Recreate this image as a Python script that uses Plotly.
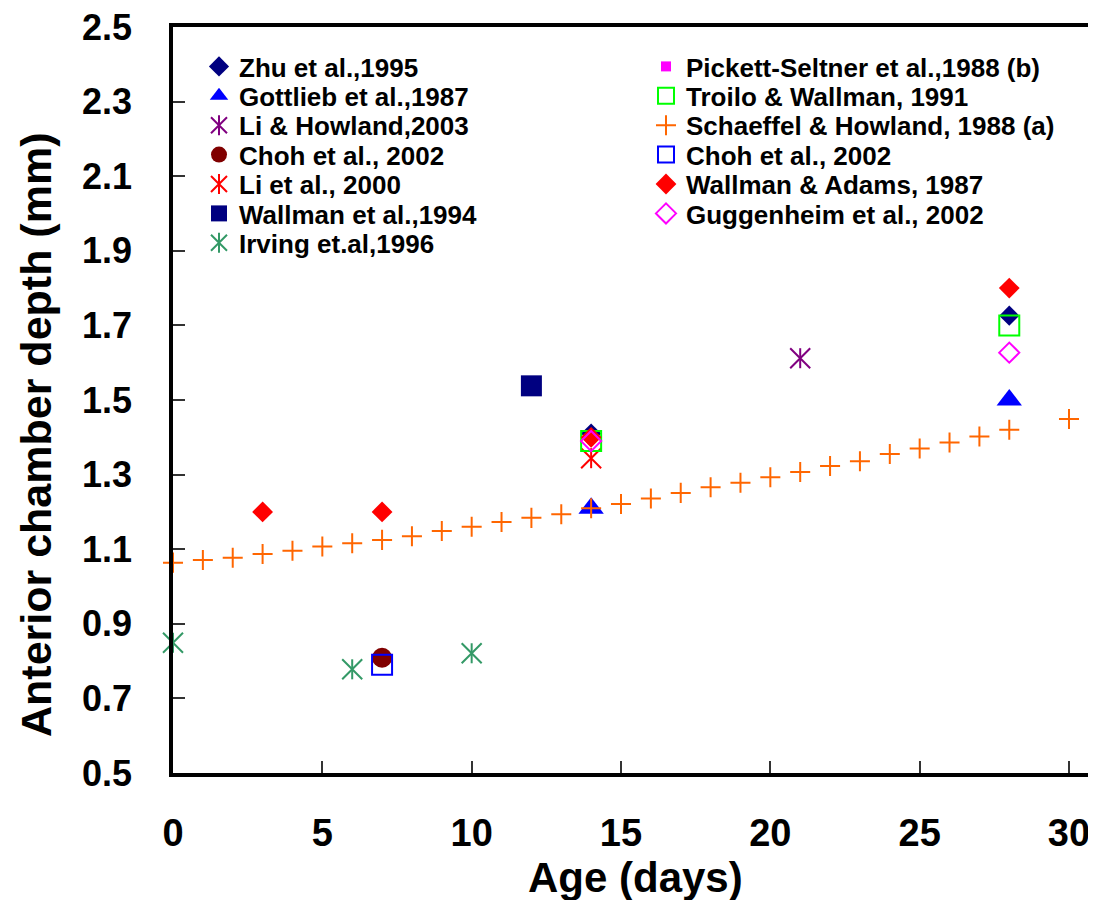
import plotly.graph_objects as go

# ---------------- data ----------------
zhu_x = [14, 28]
zhu_y = [1.41, 1.726]

gott_x = [14, 28]
gott_y = [1.21, 1.50]

lih_x = [21]
lih_y = [1.612]

choh_c_x = [7]
choh_c_y = [0.809]

li2000_x = [14]
li2000_y = [1.344]

wall94_x = [12]
wall94_y = [1.538]

irving_x = [0, 6, 10]
irving_y = [0.849, 0.778, 0.821]

pickett_x = [14]
pickett_y = [1.40]

troilo_x = [14, 28]
troilo_y = [1.39, 1.70]

schaeffel_x = [0, 1, 2, 3, 4, 5, 6, 7, 8, 9, 10, 11, 12, 13, 14, 15, 16, 17, 18, 19,
               20, 21, 22, 23, 24, 25, 26, 27, 28, 30]
schaeffel_y = [1.064, 1.071, 1.077, 1.087, 1.096, 1.107, 1.116, 1.125, 1.135, 1.149,
               1.160, 1.173, 1.184, 1.194, 1.210, 1.221, 1.236, 1.251, 1.266, 1.278,
               1.293, 1.307, 1.323, 1.336, 1.355, 1.370, 1.386, 1.402, 1.420, 1.449]

choh_s_x = [7]
choh_s_y = [0.790]

wa_x = [3, 7, 14, 28]
wa_y = [1.20, 1.20, 1.40, 1.80]

gugg_x = [14, 28]
gugg_y = [1.39, 1.627]

x_ticks = [0, 5, 10, 15, 20, 25, 30]
y_ticks = [0.5, 0.7, 0.9, 1.1, 1.3, 1.5, 1.7, 1.9, 2.1, 2.3, 2.5]

# ---------------- layout geometry ----------------
OFF = 8                      # page body margin
PAGE_W, PAGE_H = 1096, 900
W, H = PAGE_W - OFF, PAGE_H - OFF
# plot area in page pixels
PL, PT, PR, PB = 173, 27, 1096, 773
ML, MT = PL - OFF, PT - OFF
MR, MB = W - (PR - OFF), H - (PB - OFF)
PW, PH = PR - PL, PB - PT

FONT = "Liberation Sans, Arial, sans-serif"


def px_x(p):
    return (p - PL) / PW


def px_y(p):
    return (PB - p) / PH


fig = go.Figure()
legends = {}
leg_count = [0]


def new_legend(text_left_px, row_center_px):
    leg_count[0] += 1
    key = "legend" if leg_count[0] == 1 else f"legend{leg_count[0]}"
    legends[key] = dict(
        x=px_x(text_left_px - 40), y=px_y(row_center_px),
        xanchor="left", yanchor="middle",
        bgcolor="rgba(0,0,0,0)", borderwidth=0,
        font=dict(family=FONT, size=26, color="black", weight="bold"),
        itemclick=False, itemdoubleclick=False,
    )
    return key


def add(name, xs, ys, symbol, color, size, leg, open_=False, lw=2):
    fig.add_trace(go.Scatter(
        x=xs, y=ys, mode="markers", name=name, legend=leg,
        cliponaxis=False,
        marker=dict(symbol=symbol, color=color, size=size,
                    line=dict(color=color, width=lw if open_ else 0)),
    ))


def add_star(name, xs, ys, color, leg, leg_v):
    # Excel-style asterisk: an "x" plus a vertical stroke
    add(name, xs, ys, "x-thin-open", color, 20, leg, open_=True, lw=2)
    fig.add_trace(go.Scatter(
        x=xs, y=ys, mode="markers", name=" ", legend=leg_v,
        cliponaxis=False, hoverinfo="skip",
        marker=dict(symbol="line-ns-open", color=color, size=14.3,
                    line=dict(color=color, width=2)),
    ))


LEFT_TXT = 239
RIGHT_TXT = 686
rows = [66.5 + 29.4 * i for i in range(7)]

lk = {}
order_left = ["zhu", "gott", "lih", "chohc", "li2000", "wall94", "irving"]
order_right = ["pickett", "troilo", "schaeffel", "chohs", "wa", "gugg"]
for i, k in enumerate(order_left):
    lk[k] = new_legend(LEFT_TXT, rows[i])
for i, k in enumerate(order_right):
    lk[k] = new_legend(RIGHT_TXT, rows[i])
# twin legends (same place) for the vertical strokes of the asterisks
lk["lih_v"] = new_legend(LEFT_TXT, rows[2])
lk["li2000_v"] = new_legend(LEFT_TXT, rows[4])
lk["irving_v"] = new_legend(LEFT_TXT, rows[6])

# traces in Excel series order (later drawn on top)
add("Zhu et al.,1995", zhu_x, zhu_y, "diamond", "#000080", 15.5, lk["zhu"])
add("Gottlieb et al.,1987", gott_x, gott_y, "triangle-up", "#0000FF", 22, lk["gott"])
add_star("Li & Howland,2003", lih_x, lih_y, "#800080", lk["lih"], lk["lih_v"])
add("Choh et al., 2002", choh_c_x, choh_c_y, "circle", "#800000", 20, lk["chohc"])
add_star("Li et al., 2000", li2000_x, li2000_y, "#FF0000", lk["li2000"], lk["li2000_v"])
add("Wallman et al.,1994", wall94_x, wall94_y, "square", "#000080", 21, lk["wall94"])
add_star("Irving et.al,1996", irving_x, irving_y, "#339966", lk["irving"], lk["irving_v"])
add("Pickett-Seltner et al.,1988 (b)", pickett_x, pickett_y, "square", "#FF00FF", 10, lk["pickett"])
add("Troilo & Wallman, 1991", troilo_x, troilo_y, "square-open", "#00FF00", 20, lk["troilo"], open_=True)
add("Schaeffel & Howland, 1988 (a)", schaeffel_x, schaeffel_y, "cross-thin-open", "#FF6600", 14.3,
    lk["schaeffel"], open_=True)
add("Choh et al., 2002", choh_s_x, choh_s_y, "square-open", "#0000FF", 20, lk["chohs"], open_=True)
add("Wallman & Adams, 1987", wa_x, wa_y, "diamond", "#FF0000", 16, lk["wa"])
add("Guggenheim et al., 2002", gugg_x, gugg_y, "diamond-open", "#FF00FF", 15.5, lk["gugg"], open_=True)

axis_common = dict(
    showgrid=False, zeroline=False, showline=True, linecolor="black", linewidth=3.5,
    ticks="inside", ticklen=12, tickwidth=1.5, tickcolor="#333333",
    ticklabeloverflow="allow",
)

fig.update_layout(
    width=W, height=H,
    margin=dict(l=ML, r=MR, t=MT, b=MB, autoexpand=False),
    paper_bgcolor="white", plot_bgcolor="white",
    showlegend=True,
    xaxis=dict(range=[0, (PR - PL) / (1069 - PL) * 30], tickvals=x_ticks,
               ticktext=[str(v) for v in x_ticks], mirror=True,
               ticklabelstandoff=24,
               tickfont=dict(family=FONT, size=38, color="black", weight="bold"),
               **axis_common),
    yaxis=dict(range=[0.5, 2.5], tickvals=y_ticks,
               ticktext=[f"{v:.1f}" for v in y_ticks],
               ticklabelstandoff=30,
               tickfont=dict(family=FONT, size=36, color="black", weight="bold"),
               **axis_common),
    annotations=[
        dict(text="Age (days)", xref="paper", yref="paper", x=px_x(635), y=px_y(877),
             xanchor="center", yanchor="middle", showarrow=False,
             font=dict(family=FONT, size=42, color="black", weight="bold")),
        dict(text="Anterior chamber depth (mm)", xref="paper", yref="paper",
             x=px_x(36), y=px_y(435), textangle=-90,
             xanchor="center", yanchor="middle", showarrow=False,
             font=dict(family=FONT, size=43, color="black", weight="bold")),
    ],
    **legends,
)

fig.write_html("out.html")
